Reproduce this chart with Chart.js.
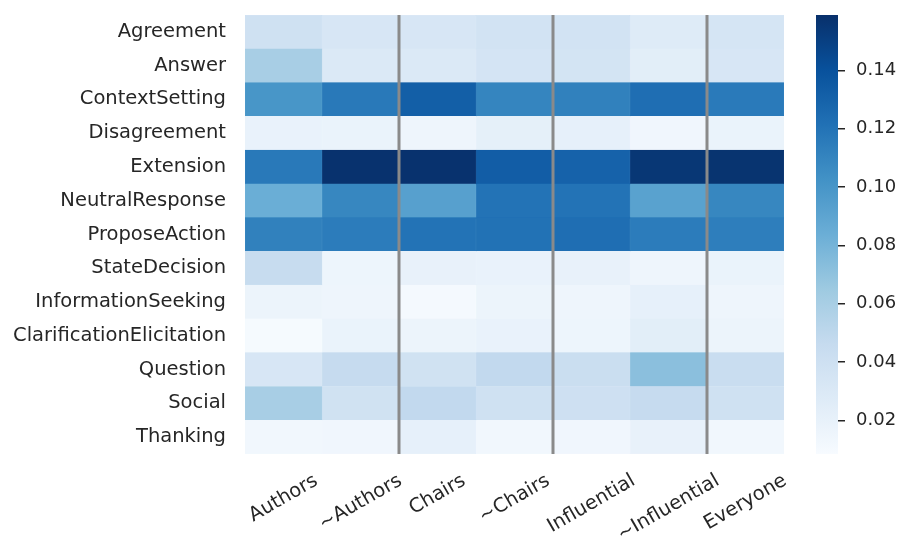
<!DOCTYPE html>
<html>
<head>
<meta charset="utf-8">
<script src="https://cdn.jsdelivr.net/npm/chart.js@4"></script>
<style>
  html, body { margin: 0; padding: 0; background: #fff; }
  #wrap { position: relative; width: 903px; height: 538px; }
  #heat { position: absolute; left: 0; top: 0; }
  #bar { position: absolute; left: 790px; top: 0; }
</style>
</head>
<body>
<div id="wrap">
  <canvas id="heat" width="790" height="538"></canvas>
  <canvas id="bar" width="113" height="538"></canvas>
</div>
<script>
// rows / columns of the heatmap
const rowLabels = ['Agreement', 'Answer', 'ContextSetting', 'Disagreement', 'Extension',
  'NeutralResponse', 'ProposeAction', 'StateDecision', 'InformationSeeking',
  'ClarificationElicitation', 'Question', 'Social', 'Thanking'];
const colLabels = ['Authors', '~Authors', 'Chairs', '~Chairs', 'Influential', '~Influential', 'Everyone'];

// one array per column, values top to bottom
const authors        = [0.039, 0.060, 0.100, 0.019, 0.117, 0.084, 0.112, 0.045, 0.017, 0.010, 0.033, 0.060, 0.013];
const notAuthors     = [0.033, 0.030, 0.117, 0.018, 0.158, 0.109, 0.115, 0.016, 0.015, 0.018, 0.046, 0.038, 0.014];
const chairs         = [0.033, 0.030, 0.132, 0.015, 0.158, 0.093, 0.120, 0.020, 0.011, 0.017, 0.038, 0.048, 0.021];
const notChairs      = [0.037, 0.035, 0.110, 0.022, 0.133, 0.120, 0.121, 0.019, 0.017, 0.019, 0.048, 0.039, 0.013];
const influential    = [0.037, 0.036, 0.112, 0.021, 0.130, 0.120, 0.123, 0.020, 0.015, 0.016, 0.043, 0.040, 0.014];
const notInfluential = [0.027, 0.024, 0.123, 0.014, 0.155, 0.092, 0.115, 0.015, 0.021, 0.024, 0.072, 0.046, 0.020];
const everyone       = [0.034, 0.033, 0.116, 0.018, 0.157, 0.109, 0.114, 0.018, 0.015, 0.017, 0.044, 0.039, 0.013];

// colorbar
const vMin = 0.0085;
const vMax = 0.159;
const cbTicks = [0.02, 0.04, 0.06, 0.08, 0.10, 0.12, 0.14];
// group separators (column boundaries)
const dividers = [2, 4, 6];

const columns = [authors, notAuthors, chairs, notChairs, influential, notInfluential, everyone];

// matplotlib "Blues"
const blues = [
  [247, 251, 255], [222, 235, 247], [198, 219, 239], [158, 202, 225],
  [107, 174, 214], [66, 146, 198], [33, 113, 181], [8, 81, 156], [8, 48, 107]
];
function bluesAt(t) {
  t = Math.max(0, Math.min(1, t));
  const p = t * (blues.length - 1);
  const i = Math.min(Math.floor(p), blues.length - 2);
  const f = p - i;
  const a = blues[i], b = blues[i + 1];
  const c = a.map((v, k) => Math.round(v + (b[k] - v) * f));
  return `rgb(${c[0]},${c[1]},${c[2]})`;
}
const colorFor = v => bluesAt((v - vMin) / (vMax - vMin));

const textColor = '#262626';
const fontFamily = '"DejaVu Sans", sans-serif';
const labelSize = 19.5;

Chart.defaults.font.family = fontFamily;
Chart.defaults.font.size = 18;
Chart.defaults.color = textColor;

// separators + rotated column labels
const overlay = {
  id: 'overlay',
  afterDatasetsDraw(chart) {
    const { ctx, chartArea, scales: { x } } = chart;
    ctx.save();
    ctx.strokeStyle = '#8a8a8a';
    ctx.lineWidth = 3;
    dividers.forEach(v => {
      const px = x.getPixelForValue(v);
      ctx.beginPath();
      ctx.moveTo(px, chartArea.top);
      ctx.lineTo(px, chartArea.bottom);
      ctx.stroke();
    });

    ctx.font = labelSize + 'px ' + fontFamily;
    ctx.fillStyle = textColor;
    ctx.textAlign = 'center';
    ctx.textBaseline = 'middle';
    const ang = 30 * Math.PI / 180;
    const h = labelSize;
    const top = chartArea.bottom + 17;
    colLabels.forEach((lab, i) => {
      const cx = x.getPixelForValue(i + 0.5);
      const w = ctx.measureText(lab).width;
      const H = w * Math.sin(ang) + h * Math.cos(ang);
      ctx.save();
      ctx.translate(cx, top + H / 2);
      ctx.rotate(-ang);
      ctx.fillText(lab, 0, 0);
      ctx.restore();
    });
    ctx.restore();
  }
};

new Chart(document.getElementById('heat'), {
  type: 'bar',
  data: {
    labels: rowLabels,
    datasets: columns.map((vals, c) => ({
      label: colLabels[c],
      data: vals.map(() => [c, c + 1]),
      backgroundColor: vals.map(colorFor),
      borderColor: vals.map(colorFor),
      borderWidth: 0.5,
      borderSkipped: false,
      barPercentage: 1,
      categoryPercentage: 1,
      grouped: false
    }))
  },
  options: {
    indexAxis: 'y',
    responsive: false,
    animation: false,
    layout: { padding: { left: 0, top: 15, right: 6, bottom: 84 } },
    plugins: { legend: { display: false }, tooltip: { enabled: false } },
    scales: {
      x: { type: 'linear', min: 0, max: 7, display: false },
      y: {
        type: 'category',
        grid: { display: false, drawTicks: false },
        border: { display: false },
        ticks: { padding: 19, color: textColor, font: { size: labelSize } },
        afterFit: s => { s.width = 245; s.paddingTop = 0; s.paddingBottom = 0; }
      }
    }
  },
  plugins: [overlay]
});

// colorbar
new Chart(document.getElementById('bar'), {
  type: 'bar',
  data: {
    labels: [''],
    datasets: [{
      data: [[vMin, vMax]],
      backgroundColor: (context) => {
        const area = context.chart.chartArea;
        if (!area) return colorFor(vMax);
        const g = context.chart.ctx.createLinearGradient(0, area.bottom, 0, area.top);
        blues.forEach((c, i) => g.addColorStop(i / (blues.length - 1), `rgb(${c[0]},${c[1]},${c[2]})`));
        return g;
      },
      borderWidth: 0,
      barPercentage: 1,
      categoryPercentage: 1
    }]
  },
  options: {
    responsive: false,
    animation: false,
    layout: { padding: { left: 26, top: 15, right: 0, bottom: 84 } },
    plugins: { legend: { display: false }, tooltip: { enabled: false } },
    scales: {
      x: { display: false },
      y: {
        position: 'right',
        min: vMin,
        max: vMax,
        grid: { drawOnChartArea: false, drawTicks: true, tickLength: 7, color: textColor, lineWidth: 1.5 },
        border: { display: false },
        ticks: { padding: 11, color: textColor, callback: v => v.toFixed(2) },
        afterBuildTicks: s => { s.ticks = cbTicks.map(v => ({ value: v })); },
        afterFit: s => { s.width = 65; s.paddingTop = 0; s.paddingBottom = 0; }
      }
    }
  }
});
</script>
</body>
</html>
